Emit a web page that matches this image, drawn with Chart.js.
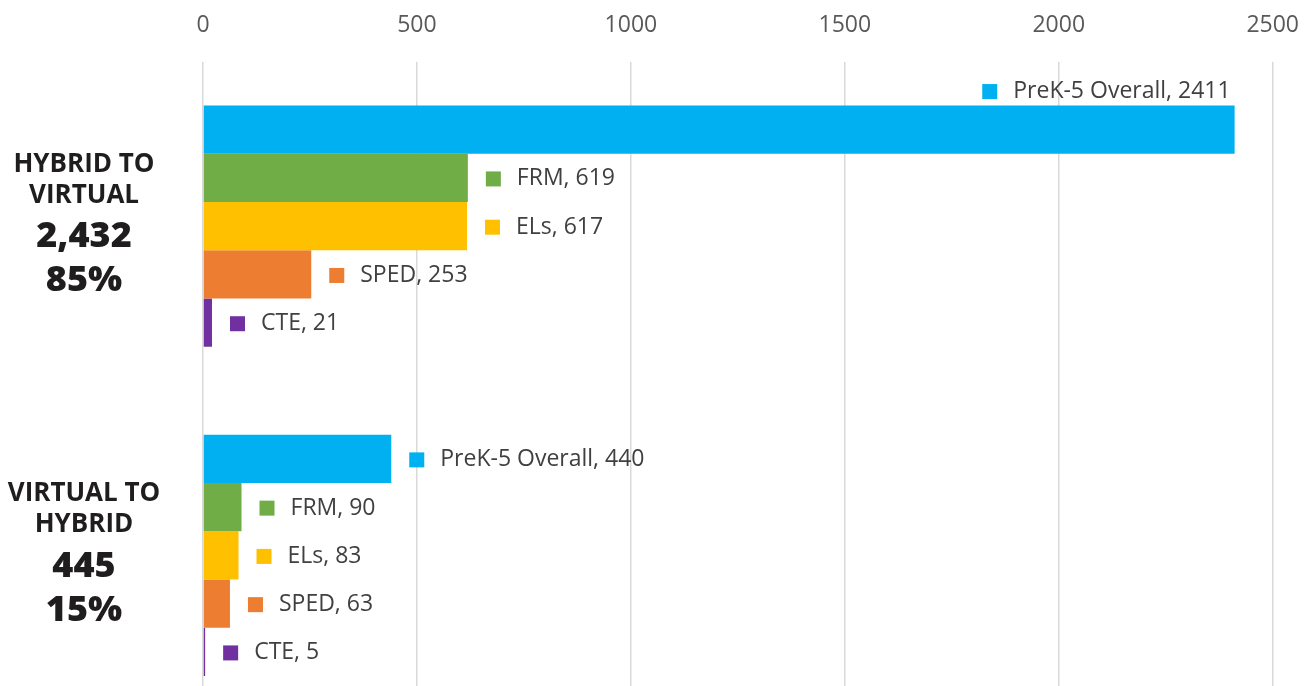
<!DOCTYPE html>
<html>
<head>
<meta charset="utf-8">
<script src="https://cdn.jsdelivr.net/npm/chart.js@4"></script>
<style>
    html, body { margin: 0; padding: 0; background: #fff; overflow: hidden; }
    #wrap { position: relative; width: 1321px; height: 732px; margin-top: -10px; }
</style>
</head>
<body>
<div id="wrap"><canvas id="chart"></canvas></div>
<script>
// Chart data
const categories = ['HYBRID TO VIRTUAL', 'VIRTUAL TO HYBRID'];
const categoryLines = [['HYBRID TO', 'VIRTUAL'], ['VIRTUAL TO', 'HYBRID']];
const categoryTotals = ['2,432', '445'];
const categoryShares = ['85%', '15%'];

const seriesNames = ['PreK-5 Overall', 'FRM', 'ELs', 'SPED', 'CTE'];
const prekValues = [2411, 440];
const frmValues = [619, 90];
const elsValues = [617, 83];
const spedValues = [253, 63];
const cteValues = [21, 5];
const seriesColors = ['#00B0F0', '#70AD47', '#FFC000', '#ED7D31', '#7030A0'];

const xTicks = [0, 500, 1000, 1500, 2000, 2500];

const allValues = [prekValues, frmValues, elsValues, spedValues, cteValues];
const FONT = '"Open Sans", sans-serif';

// Draw "■ Name, value" next to each bar
const barLabels = {
    id: 'barLabels',
    afterDatasetsDraw(chart) {
        const ctx = chart.ctx;
        const area = chart.chartArea;
        ctx.save();
        ctx.font = '23px ' + FONT;
        ctx.textBaseline = 'middle';
        chart.data.datasets.forEach((ds, di) => {
            const meta = chart.getDatasetMeta(di);
            meta.data.forEach((bar, i) => {
                const text = ds.label + ', ' + ds.data[i];
                const w = ctx.measureText(text).width;
                let sx = bar.x + 18;
                let y = bar.y + 1;
                if (sx + 26 + w > area.right) {
                    // no room on the right: sit above the bar, right aligned
                    sx = bar.x - 4 - w - 31;
                    y = bar.y - bar.height / 2 - 14;
                }
                ctx.fillStyle = ds.backgroundColor;
                ctx.fillRect(sx, y - 7.5, 15, 15);
                ctx.fillStyle = '#404040';
                ctx.textAlign = 'left';
                ctx.fillText(text, sx + 31, y);
            });
        });
        ctx.restore();
    }
};

// Multi-line category labels on the left
const categoryLabels = {
    id: 'categoryLabels',
    afterDraw(chart) {
        const ctx = chart.ctx;
        const yScale = chart.scales.y;
        ctx.save();
        ctx.fillStyle = '#1f1d1e';
        ctx.textAlign = 'center';
        ctx.textBaseline = 'middle';
        categories.forEach((c, i) => {
            const cy = yScale.getPixelForValue(i);
            ctx.font = 'bold 26px ' + FONT;
            ctx.fillText(categoryLines[i][0], 84, cy - 62);
            ctx.fillText(categoryLines[i][1], 84, cy - 31);
            ctx.font = '800 36px ' + FONT;
            ctx.fillText(categoryTotals[i], 84, cy + 11);
            ctx.fillText(categoryShares[i], 84, cy + 55);
        });
        ctx.restore();
    }
};

new Chart(document.getElementById('chart'), {
    type: 'bar',
    data: {
        labels: categories,
        datasets: seriesNames.map((name, i) => ({
            label: name,
            data: allValues[i],
            backgroundColor: seriesColors[i],
            borderWidth: 0,
            barPercentage: 1,
            categoryPercentage: 0.733
        }))
    },
    options: {
        indexAxis: 'y',
        responsive: true,
        maintainAspectRatio: false,
        animation: false,
        layout: {
            padding: { left: 203, right: 25, top: 0, bottom: 2 }
        },
        plugins: {
            legend: { display: false },
            tooltip: { enabled: false }
        },
        scales: {
            x: {
                position: 'top',
                min: 0,
                max: 2500,
                afterBuildTicks: axis => { axis.ticks = xTicks.map(v => ({ value: v })); },
                ticks: {
                    color: '#595959',
                    font: { family: FONT, size: 23 },
                    padding: 22,
                    maxRotation: 0,
                    callback: v => String(v)
                },
                grid: { color: '#d9d9d9', lineWidth: 1.5, drawTicks: false },
                border: { display: false }
            },
            y: {
                display: false
            }
        }
    },
    plugins: [barLabels, categoryLabels]
});
</script>
</body>
</html>
